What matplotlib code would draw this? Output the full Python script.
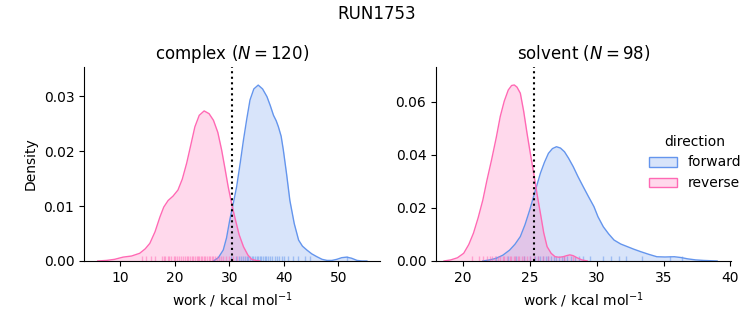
import matplotlib
matplotlib.use("Agg")
import matplotlib.pyplot as plt
from matplotlib.patches import Patch
from matplotlib.colors import to_rgba

# density curves (work in kcal/mol, density)
cx_fwd_x = [27.1, 28.0, 28.9, 29.5, 30.1, 30.7, 31.35, 32.0, 32.6, 33.2, 33.8, 34.5, 35.3, 36.1, 36.9, 37.5,
            38.1, 38.6, 39.0, 39.5, 39.9, 40.5, 41.1, 41.9, 42.7, 43.4, 44.2, 45.1, 46.0, 47.0, 47.9, 48.8,
            49.7, 50.6, 51.5, 52.4, 53.4, 54.3, 55.2]
cx_fwd_y = [0.0, 0.0006, 0.002, 0.0042, 0.0075, 0.0103, 0.0135, 0.0178, 0.022, 0.0258, 0.0293, 0.0313, 0.032,
            0.0313, 0.0299, 0.0283, 0.0265, 0.0255, 0.0244, 0.0227, 0.0202, 0.0158, 0.011, 0.0068, 0.0038,
            0.0027, 0.002, 0.0013, 0.0008, 0.0003, 0.0001, 0.0001, 0.0003, 0.0006, 0.0007, 0.0005, 0.0001,
            0.0, 0.0]
cx_rev_x = [5.9, 7.5, 9.0, 10.55, 12.1, 13.6, 14.6, 15.45, 16.4, 17.3, 18.0, 18.8, 19.7, 20.6, 21.4, 22.2,
            23.0, 23.7, 24.5, 25.4, 26.3, 27.1, 27.9, 28.6, 29.2, 29.8, 30.4, 31.0, 31.8, 32.6, 33.4, 34.1,
            34.9, 35.6]
cx_rev_y = [0.0, 0.0001, 0.0003, 0.0007, 0.0009, 0.0014, 0.0022, 0.0032, 0.0053, 0.008, 0.0098, 0.011, 0.0118,
            0.0129, 0.0149, 0.0178, 0.0213, 0.0244, 0.0265, 0.0273, 0.0268, 0.0256, 0.0234, 0.0202, 0.0169,
            0.0135, 0.0106, 0.008, 0.0048, 0.0026, 0.0011, 0.0003, 0.0001, 0.0]

sv_fwd_x = [21.5, 22.0, 22.5, 23.0, 23.5, 23.9, 24.3, 24.65, 25.0, 25.4, 25.8, 26.1, 26.4, 26.7, 27.0, 27.3,
            27.6, 27.9, 28.25, 28.6, 29.0, 29.4, 29.8, 30.1, 30.5, 30.9, 31.3, 31.8, 32.3, 32.8, 33.3, 33.9,
            34.5, 35.1, 35.8, 36.3, 36.8, 37.4, 38.0, 38.5, 39.0]
sv_fwd_y = [0.0, 0.0004, 0.001, 0.0022, 0.0041, 0.0063, 0.0092, 0.0137, 0.0192, 0.0262, 0.0331, 0.0372, 0.0406,
            0.0424, 0.0431, 0.0426, 0.0412, 0.0388, 0.0356, 0.0319, 0.028, 0.0242, 0.0205, 0.0167, 0.0129,
            0.0102, 0.0079, 0.0064, 0.0054, 0.0044, 0.0035, 0.0025, 0.0016, 0.0015, 0.0016, 0.0013, 0.0008,
            0.0004, 0.0002, 0.0001, 0.0]
sv_rev_x = [18.6, 19.1, 19.6, 20.07, 20.45, 20.8, 21.15, 21.5, 21.8, 22.15, 22.5, 22.8, 23.1, 23.4, 23.65,
            23.85, 24.05, 24.3, 24.55, 24.8, 25.05, 25.3, 25.55, 25.8, 26.05, 26.3, 26.6, 26.9, 27.2, 27.5,
            27.75, 28.0, 28.25, 28.5, 28.9, 29.3]
sv_rev_y = [0.0, 0.0004, 0.0012, 0.0029, 0.0062, 0.0105, 0.0163, 0.023, 0.0303, 0.0381, 0.0465, 0.0545, 0.0603,
            0.0645, 0.0662, 0.0664, 0.0656, 0.0633, 0.0565, 0.0482, 0.0405, 0.0331, 0.0252, 0.018, 0.0106,
            0.0054, 0.0029, 0.0016, 0.0014, 0.0016, 0.002, 0.0023, 0.002, 0.0013, 0.0004, 0.0]

# individual work values shown as rug ticks
cx_fwd_rug = [30.4, 31.2, 31.7, 32.1, 32.5, 32.9, 33.2, 33.5, 33.8, 34.1, 34.4, 34.7, 35.0, 35.3, 35.6, 35.9,
              36.2, 36.5, 36.8, 37.1, 37.5, 37.9, 38.3, 38.7, 39.1, 39.6, 40.1, 40.8, 41.6, 42.5, 43.9, 44.8,
              51.5]
cx_rev_rug = [14.1, 14.8, 15.6, 16.4, 17.6, 18.0, 18.3, 18.7, 19.0, 19.4, 19.8, 20.1, 20.5, 20.8, 21.2, 21.5,
              21.9, 22.2, 22.5, 22.8, 23.1, 23.4, 23.7, 24.0, 24.2, 24.5, 24.8, 25.0, 25.3, 25.6, 25.9, 26.2,
              26.5, 26.8, 27.1, 27.4, 27.8, 28.1, 28.5, 28.9, 29.4, 29.9, 30.6, 31.4]
sv_fwd_rug = [22.5, 23.4, 24.0, 24.6, 25.0, 25.4, 25.6, 25.8, 26.0, 26.2, 26.4, 26.6, 26.8, 27.0, 27.2, 27.4,
              27.6, 27.8, 28.1, 28.4, 28.7, 29.0, 29.5, 30.5, 31.1, 31.7, 32.2, 33.4, 35.5, 36.4]
sv_rev_rug = [20.7, 21.2, 21.5, 21.8, 22.0, 22.2, 22.4, 22.6, 22.8, 23.0, 23.1, 23.3, 23.5, 23.6, 23.8, 23.9,
              24.1, 24.2, 24.4, 24.6, 24.8, 25.0, 25.3, 25.6, 26.0, 26.4, 27.6, 28.2]

cx_dg = 30.45
sv_dg = 25.3

FWD = "cornflowerblue"
REV = "hotpink"

panels = [
    dict(title=r"complex ($N = 120$)", fwd=(cx_fwd_x, cx_fwd_y, cx_fwd_rug), rev=(cx_rev_x, cx_rev_y, cx_rev_rug),
         dg=cx_dg, xlim=(3.4, 57.6), ylim=(0, 0.0353), xticks=[10, 20, 30, 40, 50],
         yticks=[0.0, 0.01, 0.02, 0.03]),
    dict(title=r"solvent ($N = 98$)", fwd=(sv_fwd_x, sv_fwd_y, sv_fwd_rug), rev=(sv_rev_x, sv_rev_y, sv_rev_rug),
         dg=sv_dg, xlim=(18.0, 40.05), ylim=(0, 0.0732), xticks=[20, 25, 30, 35, 40],
         yticks=[0.0, 0.02, 0.04, 0.06]),
]

fig = plt.figure(figsize=(7.53, 3.25), dpi=100)
ax_left = fig.add_axes([0.1116, 0.197, 0.393, 0.597])
ax_right = fig.add_axes([0.579, 0.197, 0.392, 0.597])

for ax, p in zip([ax_left, ax_right], panels):
    for (x, y, rug), c in [(p["fwd"], FWD), (p["rev"], REV)]:
        ax.fill_between(x, y, color=c, alpha=0.25, lw=0)
        ax.plot(x, y, color=c, lw=1)
        ax.vlines(rug, 0, 0.025, transform=ax.get_xaxis_transform(), color=c, lw=1, alpha=0.5)
    ax.axvline(p["dg"], color="black", ls=":", lw=1.5)
    ax.set_xlim(p["xlim"])
    ax.set_ylim(p["ylim"])
    ax.set_xticks(p["xticks"])
    ax.set_yticks(p["yticks"])
    ax.set_title(p["title"], fontsize=12)
    ax.set_xlabel(r"work / kcal mol$^{-1}$")
    ax.spines["top"].set_visible(False)
    ax.spines["right"].set_visible(False)

ax_left.set_ylabel("Density")

handles = [Patch(facecolor=to_rgba(FWD, 0.25), edgecolor=FWD, label="forward"),
           Patch(facecolor=to_rgba(REV, 0.25), edgecolor=REV, label="reverse")]
fig.legend(handles=handles, title="direction", loc="center left", bbox_to_anchor=(0.845, 0.5),
           frameon=False, handlelength=2.0, fontsize=10, title_fontsize=10)

fig.suptitle("RUN1753", fontsize=12, y=0.985)

fig.savefig("out.png", dpi=100)
